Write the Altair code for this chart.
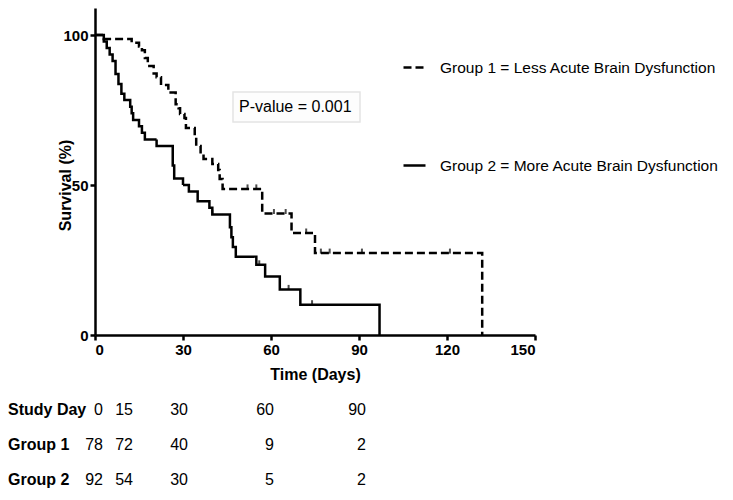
import altair as alt
import pandas as pd

FONT = "Liberation Sans"

G1 = "Group 1 = Less Acute Brain Dysfunction"
G2 = "Group 2 = More Acute Brain Dysfunction"

# Kaplan-Meier steps (day, survival %)
g1_day = [0, 3, 12.5, 15, 16, 17, 18, 20, 21, 22.5, 25, 27.5, 28.5, 29, 30.5, 31, 34, 34.5,
          36, 37, 40, 42, 42.5, 43.5, 57, 67, 75, 132]
g1_surv = [100, 98.7, 97.4, 96.2, 94.9, 92.3, 89.7, 87.2, 85.9, 83.3, 80.8, 76.9, 75.6, 73.7,
           72.3, 69, 67, 63, 60.3, 58.7, 57, 55, 52, 48.7, 40.5, 34, 27.3, 0]

g2_day = [0, 3, 4, 5, 6, 7, 8, 9, 10, 12, 12.5, 13, 15, 16, 17, 21, 26.5, 27, 30, 32, 35,
          39, 40, 46, 46.5, 47, 48, 55, 58, 63, 70, 97]
g2_surv = [100, 97.8, 95.7, 93.5, 91.3, 87, 83.7, 80.4, 78.3, 76.1, 73.9, 71.7, 69.6, 67.4,
           65.2, 63, 56.5, 52.2, 50, 47.8, 44.6, 42.4, 40.2, 35.9, 32.6, 29.3, 26.1, 23.4,
           19.5, 15.2, 10.1, 0]

# censored observations (day, survival %)
g1_cens_day = [52, 55, 61, 65, 72, 77, 80, 91, 121]
g1_cens_surv = [48.7, 48.7, 40.5, 40.5, 34, 27.3, 27.3, 27.3, 27.3]
g2_cens_day = [40, 56, 66, 74]
g2_cens_surv = [40.2, 23.4, 15.2, 10.1]

p_value_text = "P-value = 0.001"

table_rows = ["Study Day", "Group 1", "Group 2"]
study_days = ["0", "15", "30", "60", "90"]
group1_at_risk = ["78", "72", "40", "9", "2"]
group2_at_risk = ["92", "54", "30", "5", "2"]

curves = pd.DataFrame({
    "day": g1_day + g2_day,
    "surv": g1_surv + g2_surv,
    "group": [G1] * len(g1_day) + [G2] * len(g2_day),
})
cens = pd.DataFrame({
    "day": g1_cens_day + g2_cens_day,
    "surv": g1_cens_surv + g2_cens_surv,
})

x_enc = alt.X("day:Q", scale=alt.Scale(domain=[0, 150], nice=False),
              axis=alt.Axis(values=[0, 30, 60, 90, 120, 150], title="Time (Days)",
                            titleY=39, titleBaseline="middle"))
y_enc = alt.Y("surv:Q", scale=alt.Scale(domain=[0, 109], nice=False),
              axis=alt.Axis(values=[0, 50, 100], title="Survival (%)",
                            titleX=-30, titleY=177, titleAngle=270,
                            titleAlign="center", titleBaseline="middle"))

lines = alt.Chart(curves).mark_line(
    interpolate="step-after", color="black", strokeWidth=2.5
).encode(
    x=x_enc, y=y_enc,
    strokeDash=alt.StrokeDash(
        "group:N",
        scale=alt.Scale(domain=[G1, G2], range=[[8, 4], [1, 0]]),
        legend=alt.Legend(title=None, orient="none", legendX=307, legendY=47,
                          symbolType="stroke", symbolSize=484, symbolStrokeWidth=2.5,
                          symbolStrokeColor="black", labelFontSize=15.5, labelFont=FONT,
                          labelColor="black", labelOffset=13, labelLimit=0,
                          rowPadding=77, padding=0),
    ),
)

ticks = alt.Chart(cens).mark_tick(
    orient="vertical", size=5, thickness=2, color="black", yOffset=-2
).encode(x="day:Q", y="surv:Q")

pdf = pd.DataFrame({"t": [p_value_text]})
pbox = alt.Chart(pdf).mark_rect(fill="#fdfdfd", stroke="#e4e4e4", strokeWidth=1.5).encode(
    x=alt.value(138), x2=alt.value(265), y=alt.value(84), y2=alt.value(114))
ptext = alt.Chart(pdf).mark_text(
    align="left", baseline="middle", fontSize=16, font=FONT, color="black"
).encode(text="t:N", x=alt.value(144), y=alt.value(99))

main = alt.layer(lines, ticks, pbox, ptext)

# at-risk table
long = []
for j in range(len(study_days)):
    long.append({"row": table_rows[0], "col": j, "v": study_days[j]})
    long.append({"row": table_rows[1], "col": j, "v": group1_at_risk[j]})
    long.append({"row": table_rows[2], "col": j, "v": group2_at_risk[j]})
tdf = pd.DataFrame(long)
row_y = alt.Y("row:N", scale=alt.Scale(domain=table_rows, range=[402, 472], padding=0), axis=None)

labels = alt.Chart(pd.DataFrame({"row": table_rows})).mark_text(
    align="left", baseline="middle", fontSize=16, fontWeight="bold", font=FONT, color="black"
).encode(text="row:N", x=alt.value(-87), y=row_y)

col_right = [8, 38, 93, 179, 271]
col_layers = []
for j, xr in enumerate(col_right):
    col_layers.append(
        alt.Chart(tdf).transform_filter(alt.datum.col == j).mark_text(
            align="right", baseline="middle", fontSize=16, font=FONT, color="black"
        ).encode(text="v:N", x=alt.value(xr), y=row_y)
    )
table = alt.layer(labels, *col_layers)

chart = alt.layer(main, table).resolve_scale(x="independent", y="independent").properties(
    width=440, height=327,
    autosize=alt.AutoSizeParams(type="none"),
    padding={"left": 87, "top": 0, "right": 190, "bottom": 157},
).configure_view(stroke=None).configure_axis(
    grid=False, domainColor="black", domainWidth=2.5, tickColor="black", tickWidth=2.5,
    tickSize=5, labelFont=FONT, labelFontWeight="bold", labelFontSize=15, labelColor="black",
    labelPadding=2, titleFont=FONT, titleFontSize=16, titleFontWeight="bold", titleColor="black",
)

chart.save("out.html", embed_options={"renderer": "svg", "actions": False})
